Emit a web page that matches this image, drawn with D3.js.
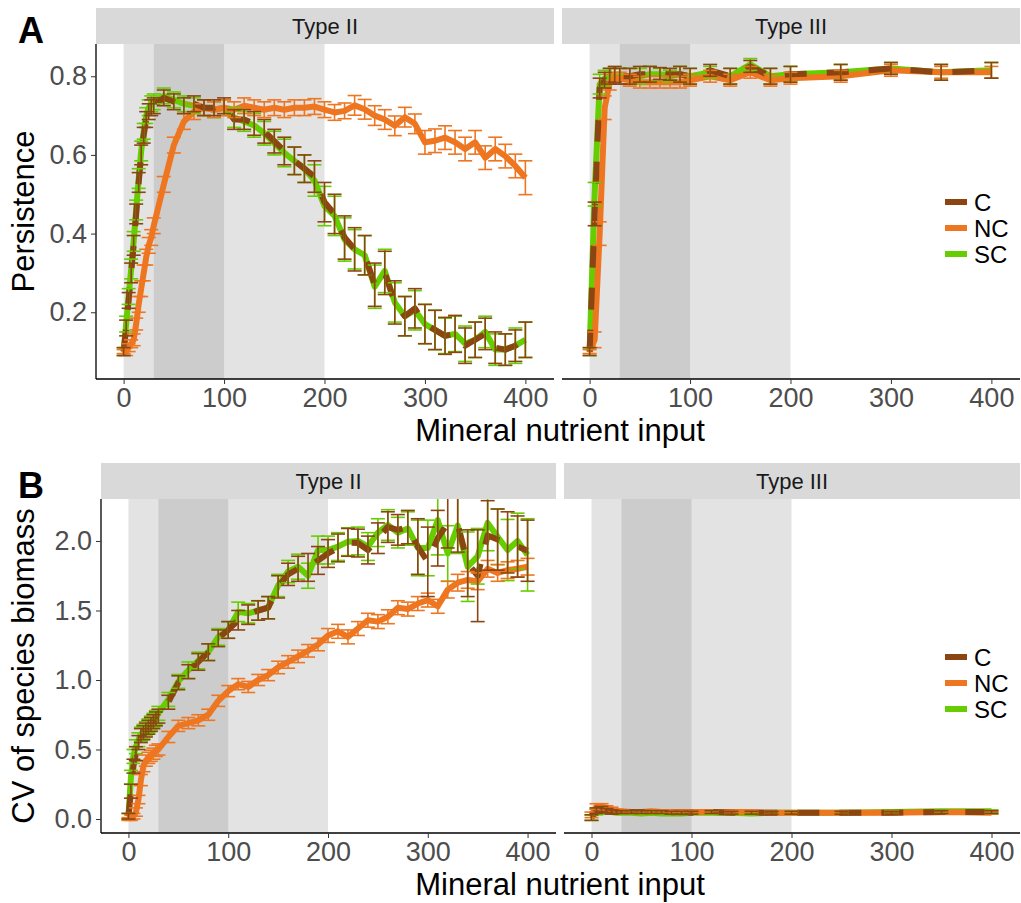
<!DOCTYPE html>
<html>
<head>
<meta charset="utf-8">
<script src="https://cdn.jsdelivr.net/npm/d3@7"></script>
<style>
  body { margin: 0; background: #fff; }
  svg text { font-family: "Liberation Sans", Arial, sans-serif; }
</style>
</head>
<body>
<div id="chart"></div>
<script>
// nutrient input levels
var xTypeII = [0,2.5,5,7.5,10,12.5,15,17.5,20,22.5,25,27.5,30,40,50,60,70,80,90,100,110,120,130,140,150,160,170,180,190,200,210,220,230,240,250,260,270,280,290,300,310,320,330,340,350,360,370,380,390,400];
var xTypeIII = [0,5,10,15,20,25,30,40,50,60,70,80,90,100,120,140,160,180,200,250,300,350,400];

// A - persistence, Type II
var persII_C = [0.10,0.16,0.23,0.30,0.37,0.45,0.53,0.60,0.65,0.69,0.71,0.72,0.725, 0.745,0.735,0.725,0.73,0.72,0.72,0.725, 0.69,0.69,0.68,0.66,0.635,0.61,0.585,0.565,0.545,0.48, 0.45,0.39,0.36,0.345,0.27,0.30,0.225,0.19,0.21,0.17, 0.155,0.14,0.145,0.115,0.13,0.145,0.11,0.105,0.115,0.13];
var persII_C_se = [0.01,0.02,0.02,0.025,0.025,0.025,0.025,0.025,0.02,0.02,0.02,0.02,0.02, 0.02,0.02,0.02,0.02,0.02,0.02,0.02, 0.025,0.025,0.03,0.03,0.03,0.035,0.035,0.035,0.04,0.05, 0.05,0.055,0.055,0.05,0.055,0.055,0.055,0.05,0.05,0.05, 0.05,0.047,0.047,0.045,0.045,0.04,0.04,0.04,0.04,0.045];
var persII_NC = [0.10,0.10,0.11,0.12,0.13,0.17,0.22,0.26,0.30,0.34,0.37,0.39,0.42, 0.525,0.625,0.685,0.71,0.72,0.715,0.72, 0.715,0.725,0.72,0.715,0.72,0.715,0.72,0.72,0.723,0.715, 0.708,0.712,0.726,0.716,0.70,0.69,0.674,0.696,0.679,0.632, 0.636,0.644,0.632,0.615,0.632,0.593,0.615,0.597,0.572,0.542];
var persII_NC_se = [0.005,0.01,0.01,0.01,0.015,0.015,0.02,0.02,0.02,0.02,0.02,0.02,0.02, 0.02,0.02,0.02,0.02,0.02,0.02,0.02, 0.02,0.02,0.02,0.02,0.02,0.02,0.02,0.02,0.02,0.02, 0.02,0.02,0.025,0.025,0.025,0.025,0.025,0.025,0.025,0.03, 0.03,0.03,0.03,0.03,0.03,0.03,0.03,0.03,0.03,0.043];
var persII_SC = [0.10,0.17,0.24,0.31,0.38,0.46,0.54,0.61,0.66,0.70,0.72,0.73,0.735, 0.75,0.74,0.73,0.725,0.72,0.715,0.72, 0.695,0.685,0.675,0.655,0.63,0.605,0.585,0.565,0.535,0.47, 0.445,0.385,0.36,0.345,0.265,0.305,0.225,0.19,0.205,0.17, 0.155,0.14,0.145,0.12,0.13,0.15,0.105,0.105,0.115,0.13];
var persII_SC_se = [0.01,0.02,0.02,0.025,0.025,0.025,0.025,0.025,0.02,0.02,0.02,0.02,0.02, 0.02,0.02,0.02,0.02,0.02,0.02,0.02, 0.025,0.025,0.03,0.03,0.03,0.035,0.035,0.035,0.04,0.05, 0.05,0.055,0.05,0.05,0.055,0.055,0.05,0.05,0.05,0.05, 0.05,0.045,0.045,0.045,0.045,0.04,0.04,0.04,0.045,0.045];

// A - persistence, Type III
var persIII_C = [0.10,0.45,0.77,0.79,0.80,0.805,0.80,0.80,0.805,0.805,0.807,0.805,0.805,0.80,0.815,0.80,0.825,0.80,0.805,0.81,0.82,0.81,0.815];
var persIII_C_se = [0.01,0.03,0.025,0.02,0.02,0.02,0.02,0.02,0.02,0.02,0.015,0.015,0.02,0.02,0.015,0.02,0.015,0.02,0.02,0.02,0.015,0.02,0.02];
var persIII_NC = [0.10,0.13,0.40,0.72,0.785,0.795,0.795,0.79,0.785,0.785,0.785,0.785,0.785,0.79,0.80,0.79,0.81,0.79,0.795,0.80,0.815,0.81,0.81];
var persIII_NC_se = [0.005,0.02,0.03,0.03,0.02,0.015,0.015,0.015,0.015,0.015,0.015,0.015,0.015,0.015,0.015,0.015,0.015,0.015,0.015,0.015,0.015,0.015,0.015];
var persIII_SC = [0.10,0.50,0.78,0.795,0.80,0.80,0.80,0.80,0.80,0.805,0.805,0.80,0.805,0.80,0.81,0.80,0.83,0.80,0.805,0.81,0.82,0.81,0.815];
var persIII_SC_se = [0.01,0.03,0.025,0.02,0.02,0.02,0.02,0.02,0.02,0.02,0.015,0.015,0.02,0.02,0.015,0.02,0.015,0.02,0.02,0.02,0.015,0.02,0.02];

// B - CV of species biomass, Type II
var cvII_C = [0.02,0.20,0.38,0.47,0.55,0.60,0.62,0.64,0.66,0.68,0.70,0.72,0.74, 0.84,0.98,1.06,1.13,1.20,1.30,1.36, 1.43,1.47,1.50,1.52,1.67,1.76,1.80,1.81,1.86,1.91, 1.95,1.99,1.985,1.935,2.02,2.10,2.08,2.10,1.96,1.85, 2.02,2.13,2.12,1.84,1.75,2.04,2.01,1.99,1.96,1.93];
var cvII_C_se = [0.02,0.05,0.05,0.05,0.05,0.05,0.05,0.05,0.05,0.05,0.05,0.05,0.05, 0.05,0.05,0.05,0.06,0.06,0.06,0.06, 0.07,0.07,0.07,0.08,0.08,0.08,0.09,0.10,0.10,0.10, 0.10,0.10,0.10,0.10,0.11,0.11,0.11,0.12,0.2,0.25, 0.20,0.18,0.20,0.24,0.33,0.25,0.22,0.22,0.22,0.22];
var cvII_NC = [0.0,0.01,0.02,0.05,0.14,0.28,0.38,0.42,0.44,0.455,0.47,0.49,0.50, 0.59,0.67,0.69,0.71,0.75,0.85,0.92, 0.97,0.95,1.00,1.035,1.09,1.13,1.17,1.21,1.255,1.32, 1.35,1.31,1.37,1.43,1.42,1.455,1.52,1.51,1.55,1.575, 1.53,1.65,1.70,1.72,1.71,1.80,1.77,1.79,1.80,1.815];
var cvII_NC_se = [0.01,0.02,0.02,0.03,0.03,0.04,0.04,0.04,0.04,0.04,0.04,0.04,0.04, 0.04,0.04,0.04,0.04,0.04,0.04,0.04, 0.04,0.04,0.04,0.04,0.045,0.045,0.045,0.045,0.045,0.05, 0.05,0.05,0.05,0.05,0.05,0.05,0.05,0.05,0.05,0.05, 0.05,0.06,0.06,0.06,0.06,0.06,0.06,0.06,0.06,0.06];
var cvII_SC = [0.02,0.30,0.45,0.52,0.57,0.61,0.63,0.65,0.67,0.69,0.71,0.73,0.76, 0.86,0.99,1.07,1.14,1.20,1.31,1.36, 1.49,1.48,1.50,1.52,1.68,1.78,1.815,1.75,1.935,1.935, 1.96,1.995,2.0,1.96,2.06,2.115,2.06,2.09,1.95,1.95, 2.15,1.91,2.11,1.815,1.89,2.13,2.03,1.935,2.0,1.90];
var cvII_SC_se = [0.02,0.05,0.05,0.05,0.05,0.05,0.05,0.05,0.05,0.05,0.05,0.05,0.05, 0.05,0.05,0.06,0.06,0.06,0.06,0.06, 0.07,0.07,0.07,0.08,0.08,0.08,0.09,0.09,0.10,0.10, 0.10,0.10,0.10,0.10,0.10,0.11,0.11,0.12,0.2,0.2, 0.25,0.2,0.2,0.25,0.2,0.2,0.2,0.22,0.2,0.26];

// B - CV of species biomass, Type III
var cvIII_C = [0.01,0.06,0.07,0.06,0.05,0.05,0.05,0.05,0.05,0.05,0.05,0.045,0.045,0.045,0.05,0.045,0.045,0.045,0.045,0.045,0.045,0.05,0.05];
var cvIII_C_se = [0.02,0.02,0.02,0.015,0.015,0.01,0.01,0.01,0.01,0.01,0.01,0.01,0.01,0.01,0.01,0.01,0.01,0.01,0.01,0.01,0.01,0.01,0.01];
var cvIII_NC = [0.03,0.09,0.09,0.08,0.07,0.06,0.055,0.05,0.05,0.055,0.05,0.05,0.05,0.05,0.05,0.05,0.05,0.045,0.045,0.045,0.045,0.05,0.045];
var cvIII_NC_se = [0.02,0.02,0.02,0.015,0.015,0.01,0.01,0.01,0.01,0.01,0.01,0.01,0.01,0.01,0.01,0.01,0.01,0.01,0.01,0.01,0.01,0.01,0.01];
var cvIII_SC = [0.01,0.05,0.06,0.055,0.05,0.045,0.045,0.045,0.04,0.045,0.04,0.04,0.04,0.045,0.045,0.045,0.04,0.045,0.045,0.045,0.05,0.055,0.055];
var cvIII_SC_se = [0.02,0.02,0.02,0.015,0.015,0.01,0.01,0.01,0.01,0.01,0.01,0.01,0.01,0.01,0.01,0.01,0.01,0.01,0.01,0.01,0.01,0.01,0.01];

var groups = ['C', 'NC', 'SC'];
var colors = {C: '#8B4513', NC: '#EE7621', SC: '#66CD00'};
var drawOrder = ['SC', 'NC', 'C'];   // C dashes end up on top
var xTicks = [0, 100, 200, 300, 400];
var yTicksA = [0.2, 0.4, 0.6, 0.8];
var yTicksB = [0.0, 0.5, 1.0, 1.5, 2.0];
var bands = [[0, 200, '#E3E3E3'], [30, 100, '#CCCCCC']];

var W = 1021, H = 903;
var svg = d3.select('#chart').append('svg').attr('width', W).attr('height', H);

var rows = [
  {label: 'A', top: 44, bottom: 379, stripTop: 8, yDomain: [0.0303, 0.882], yTicks: yTicksA, yFmt: d3.format('.1f'),
   yTitle: 'Persistence', legendY: 202,
   panels: [
     {name: 'Type II', l: 96, r: 554, x: xTypeII, data: {C: [persII_C, persII_C_se], NC: [persII_NC, persII_NC_se], SC: [persII_SC, persII_SC_se]}},
     {name: 'Type III', l: 562, r: 1020, x: xTypeIII, data: {C: [persIII_C, persIII_C_se], NC: [persIII_NC, persIII_NC_se], SC: [persIII_SC, persIII_SC_se]}}
   ]},
  {label: 'B', top: 499, bottom: 833, stripTop: 463, yDomain: [-0.1007, 2.302], yTicks: yTicksB, yFmt: d3.format('.1f'),
   yTitle: 'CV of species biomass', legendY: 657,
   panels: [
     {name: 'Type II', l: 101, r: 556, x: xTypeII, data: {C: [cvII_C, cvII_C_se], NC: [cvII_NC, cvII_NC_se], SC: [cvII_SC, cvII_SC_se]}},
     {name: 'Type III', l: 564, r: 1020, x: xTypeIII, data: {C: [cvIII_C, cvIII_C_se], NC: [cvIII_NC, cvIII_NC_se], SC: [cvIII_SC, cvIII_SC_se]}}
   ]}
];

rows.forEach(function(row){
  var y = d3.scaleLinear().domain(row.yDomain).range([row.bottom, row.top]);

  row.panels.forEach(function(p, pi){
    var x = d3.scaleLinear().domain([-27.5, 428.5]).range([p.l, p.r]);
    var g = svg.append('g');

    // strip
    g.append('rect').attr('x', p.l).attr('y', row.stripTop)
      .attr('width', p.r - p.l).attr('height', row.top - row.stripTop).attr('fill', '#D9D9D9');
    g.append('text').attr('x', (p.l + p.r) / 2).attr('y', (row.stripTop + row.top) / 2)
      .attr('dy', '0.35em').attr('text-anchor', 'middle')
      .attr('font-size', 22).attr('fill', '#1A1A1A').text(p.name);

    // shaded bands
    bands.forEach(function(b){
      g.append('rect').attr('x', x(b[0])).attr('y', row.top)
        .attr('width', x(b[1]) - x(b[0])).attr('height', row.bottom - row.top).attr('fill', b[2]);
    });

    // lines
    var clipId = 'clip' + row.label + pi;
    svg.append('clipPath').attr('id', clipId).append('rect')
      .attr('x', p.l).attr('y', row.top).attr('width', p.r - p.l).attr('height', row.bottom - row.top);
    var plot = g.append('g').attr('clip-path', 'url(#' + clipId + ')');

    drawOrder.forEach(function(k){
      var m = p.data[k][0];
      var line = d3.line().x(function(d, i){ return x(p.x[i]); }).y(function(d){ return y(d); });
      plot.append('path').datum(m).attr('d', line)
        .attr('fill', 'none').attr('stroke', colors[k]).attr('stroke-width', 6)
        .attr('stroke-linejoin', 'round')
        .attr('stroke-dasharray', k === 'C' ? '22,20' : null);
    });

    drawOrder.forEach(function(k){
      var m = p.data[k][0], se = p.data[k][1];
      var eb = plot.append('g').attr('stroke', colors[k]).attr('stroke-width', 1.6).attr('fill', 'none');
      m.forEach(function(v, i){
        var cx = x(p.x[i]), y0 = y(v - se[i]), y1 = y(v + se[i]);
        eb.append('line').attr('x1', cx).attr('x2', cx).attr('y1', y0).attr('y2', y1);
        eb.append('line').attr('x1', cx - 7).attr('x2', cx + 7).attr('y1', y0).attr('y2', y0);
        eb.append('line').attr('x1', cx - 7).attr('x2', cx + 7).attr('y1', y1).attr('y2', y1);
      });
    });

    // x axis
    var xa = g.append('g').attr('transform', 'translate(0,' + row.bottom + ')')
      .call(d3.axisBottom(x).tickValues(xTicks).tickSize(5).tickPadding(4).tickFormat(d3.format('d')));
    xa.select('.domain').attr('stroke', '#000').attr('stroke-width', 1.3).attr('d', 'M' + p.l + ',0H' + p.r);
    xa.selectAll('.tick line').attr('stroke', '#333');
    xa.selectAll('.tick text').attr('font-size', 27).attr('fill', '#4D4D4D').attr('font-family', null);

    // y axis only on the left panel
    if (pi === 0) {
      var ya = g.append('g').attr('transform', 'translate(' + p.l + ',0)')
        .call(d3.axisLeft(y).tickValues(row.yTicks).tickSize(5).tickPadding(4).tickFormat(row.yFmt));
      ya.select('.domain').attr('stroke', '#000').attr('stroke-width', 1.3).attr('d', 'M0,' + row.top + 'V' + row.bottom);
      ya.selectAll('.tick line').attr('stroke', '#333');
      ya.selectAll('.tick text').attr('font-size', 27).attr('fill', '#4D4D4D').attr('font-family', null);
    }
  });

  // titles
  svg.append('text').attr('x', 560).attr('y', row.bottom + 62).attr('text-anchor', 'middle')
    .attr('font-size', 31).attr('fill', '#000').text('Mineral nutrient input');
  svg.append('text').attr('transform', 'translate(34,' + ((row.top + row.bottom) / 2) + ') rotate(-90)')
    .attr('text-anchor', 'middle').attr('font-size', 31).attr('fill', '#000').text(row.yTitle);
  svg.append('text').attr('x', 18).attr('y', row.stripTop + 35).attr('font-size', 36)
    .attr('font-weight', 'bold').attr('fill', '#000').text(row.label);

  // legend
  var lg = svg.append('g').attr('transform', 'translate(945,' + row.legendY + ')');
  groups.forEach(function(k, i){
    lg.append('line').attr('x1', 0).attr('x2', 22).attr('y1', i * 26).attr('y2', i * 26)
      .attr('stroke', colors[k]).attr('stroke-width', 6);
    lg.append('text').attr('x', 29).attr('y', i * 26).attr('dy', '0.36em')
      .attr('font-size', 24).attr('fill', '#000').text(k);
  });
});
</script>
</body>
</html>
